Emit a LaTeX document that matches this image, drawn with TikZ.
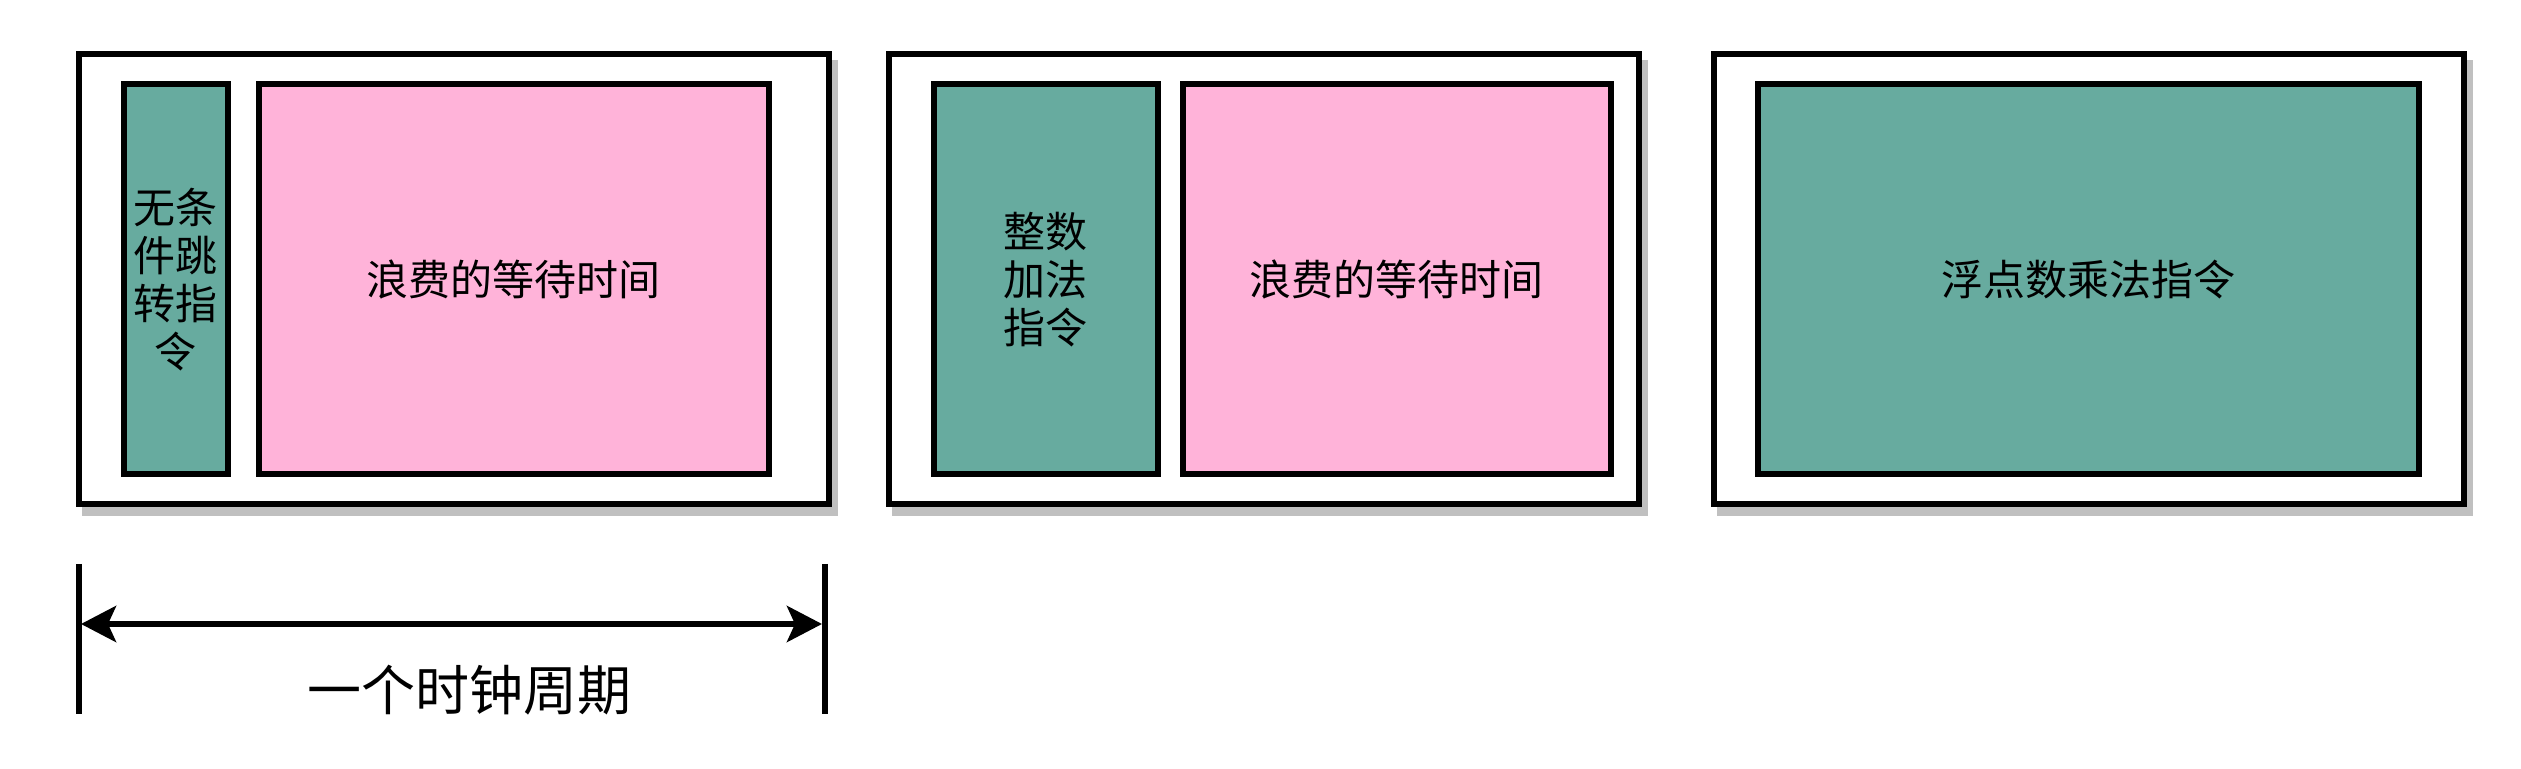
\documentclass[tikz,border=0pt]{standalone}
\usepackage{fontspec}
\setmainfont{Noto Sans CJK SC}
\usetikzlibrary{arrows.meta}
\definecolor{gfill}{HTML}{67AB9F}
\definecolor{pfill}{HTML}{FFB3D9}
\definecolor{shad}{HTML}{C0C0C0}
\begin{document}
\begin{tikzpicture}[x=0.5pt,y=-0.5pt,
  every node/.style={inner sep=0pt, outer sep=0pt},
  outerbox/.style={draw=black, line width=3pt, fill=white, rectangle, minimum width=375.25pt, minimum height=225pt},
  shadowbox/.style={draw=shad, line width=3pt, fill=shad, rectangle, minimum width=375.25pt, minimum height=225pt},
  instbox/.style={draw=black, line width=3pt, fill=gfill, rectangle, minimum height=194.75pt, align=center,
     font=\fontsize{21pt}{24pt}\selectfont},
  waitbox/.style={draw=black, line width=3pt, fill=pfill, rectangle, minimum height=194.75pt, align=center,
     font=\fontsize{21pt}{24pt}\selectfont},
  dimline/.style={draw=black, line width=3pt},
  dimarrow/.style={draw=black, line width=3pt, {Stealth[length=17.5pt,width=18pt,inset=4pt]}-{Stealth[length=17.5pt,width=18pt,inset=4pt]}},
  dimlabel/.style={font=\fontsize{27pt}{30pt}\selectfont}
]
\useasboundingbox (0,0) rectangle (2521,769);
% shadows
\node[shadowbox] (s1) at (459.75,288.5) {};
\node[shadowbox] (s2) at (1269.75,288.5) {};
\node[shadowbox] (s3) at (2094.75,288.5) {};
% outer boxes
\node[outerbox] (o1) at (453.75,279.5) {};
\node[outerbox] (o2) at (1263.75,279.5) {};
\node[outerbox] (o3) at (2088.75,279.5) {};
% inner boxes
\node[instbox, minimum width=52.25pt] (g1) at (175.75,279.25) {无条\\件跳\\转指\\令};
\node[waitbox, minimum width=255pt] (p1) at (513.5,279.25) {\raisebox{-1.2pt}{浪费的等待时间}};
\node[instbox, minimum width=112.25pt] (g2) at (1045.75,279.25) {整数\\加法\\指令};
\node[waitbox, minimum width=214.15pt] (p2) at (1396.85,279.25) {\raisebox{-1.2pt}{浪费的等待时间}};
\node[instbox, minimum width=330.5pt] (g3) at (2088.5,279.25) {\raisebox{-1.2pt}{浮点数乘法指令}};
% dimension
\coordinate (lt) at (78.5,564);
\coordinate (lb) at (78.5,714);
\coordinate (rt) at (824.5,564);
\coordinate (rb) at (824.5,714);
\coordinate (al) at (81,624);
\coordinate (ar) at (822,624);
\draw[dimline] (lt) -- (lb);
\draw[dimline] (rt) -- (rb);
\draw[dimarrow] (al) -- (ar);
\node[dimlabel] (cyc) at (469,690) {一个时钟周期};
\end{tikzpicture}
\end{document}
